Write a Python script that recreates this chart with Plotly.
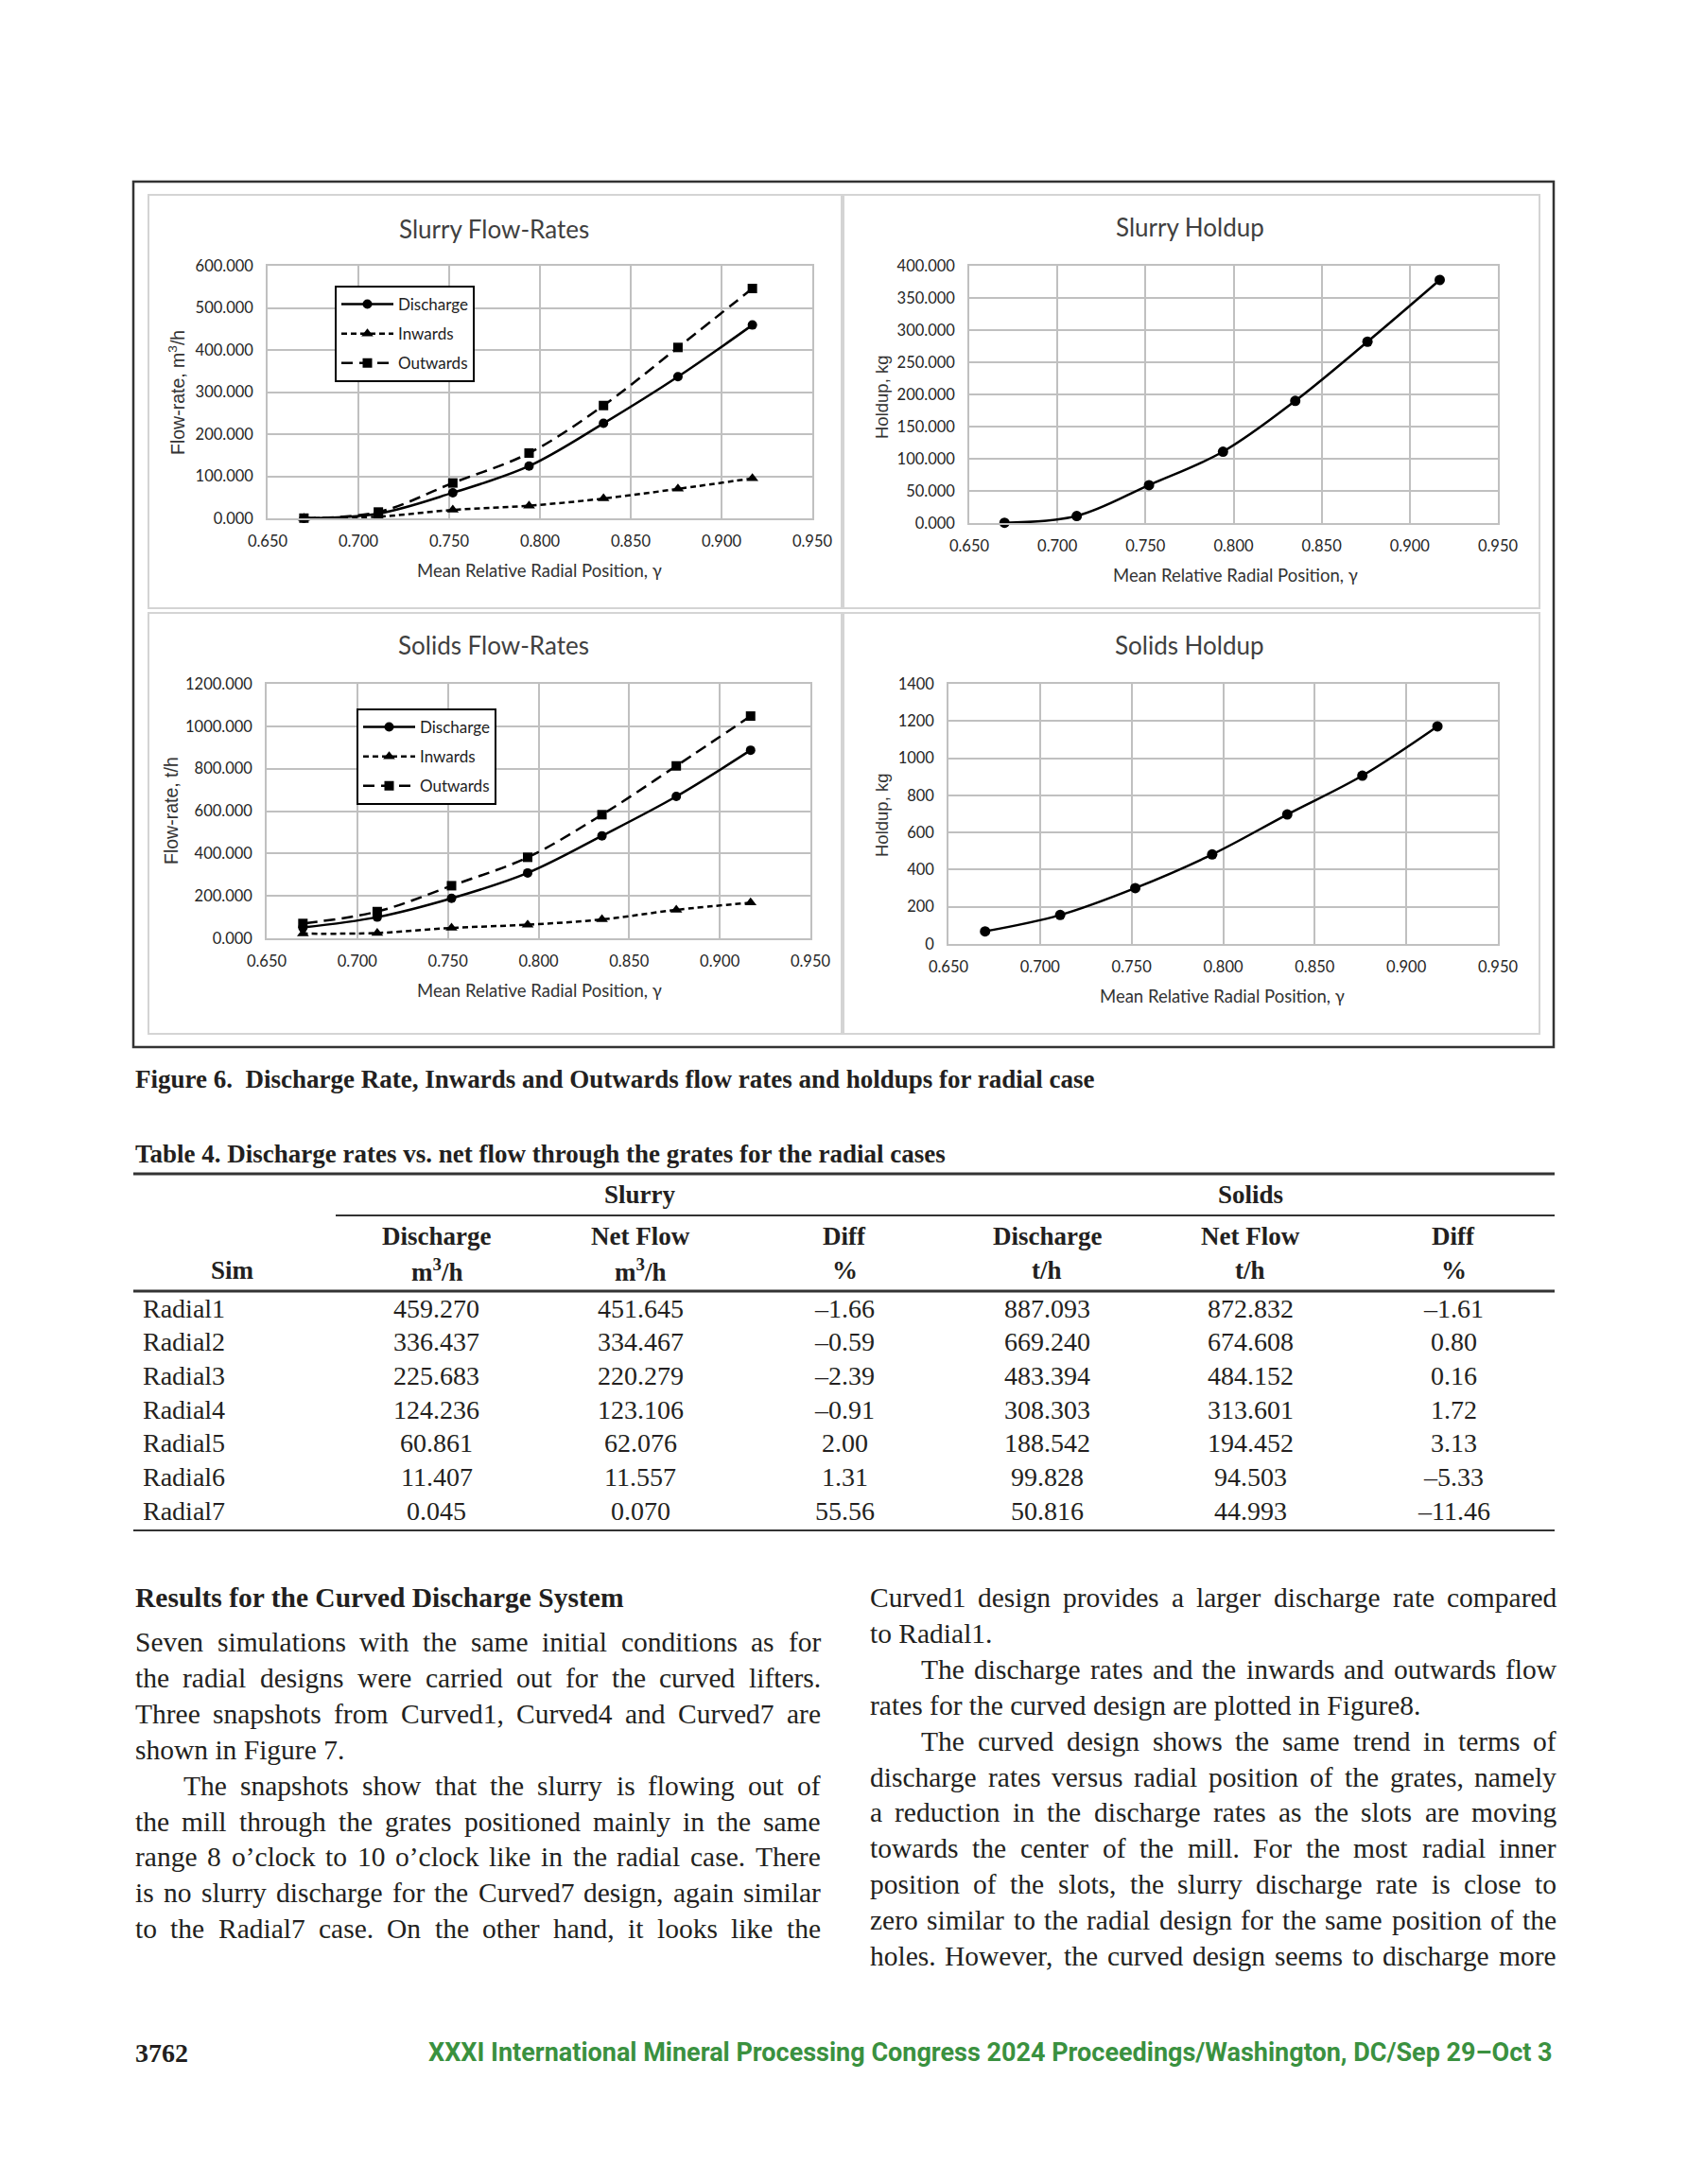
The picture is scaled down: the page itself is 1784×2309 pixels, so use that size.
import plotly.graph_objects as go

# page is 1784x2309; the browser body adds an 8px margin, so the figure is
# made 16px smaller and every page coordinate is shifted by that margin
PAGE_W, PAGE_H = 1784, 2309
OFF = 8
W, H = PAGE_W - 2 * OFF, PAGE_H - 2 * OFF


def px(x):
    return (x - OFF) / W


def py(y):
    return 1 - (y - OFF) / H


# ---------------- data ----------------
sims = ["Radial1", "Radial2", "Radial3", "Radial4", "Radial5", "Radial6", "Radial7"]
gamma = [0.917, 0.876, 0.835, 0.794, 0.752, 0.711, 0.670]

slurry_discharge = [459.270, 336.437, 225.683, 124.236, 60.861, 11.407, 0.045]
slurry_netflow = [451.645, 334.467, 220.279, 123.106, 62.076, 11.557, 0.070]
slurry_diff = [-1.66, -0.59, -2.39, -0.91, 2.00, 1.31, 55.56]
solids_discharge = [887.093, 669.240, 483.394, 308.303, 188.542, 99.828, 50.816]
solids_netflow = [872.832, 674.608, 484.152, 313.601, 194.452, 94.503, 44.993]
solids_diff = [-1.61, 0.80, 0.16, 1.72, 3.13, -5.33, -11.46]

slurry_inwards = [95, 70, 47, 30, 20, 4, 0.5]
slurry_outwards = [546, 406, 268, 155, 84, 15, 0.5]
solids_inwards = [168, 134, 89, 64, 49, 25, 22]
solids_outwards = [1048, 813, 583, 382, 248, 126, 70]
slurry_holdup = [378, 282, 190, 111, 59, 11, 0.5]
solids_holdup = [1171, 906, 697, 482, 301, 156, 68]

chart_titles = ["Slurry Flow-Rates", "Slurry Holdup", "Solids Flow-Rates", "Solids Holdup"]
y_titles = ["Flow-rate, m<sup>3</sup>/h", "Holdup, kg", "Flow-rate, t/h", "Holdup, kg"]
x_title = "Mean Relative Radial Position, γ"

caption = "Figure 6.  Discharge Rate, Inwards and Outwards flow rates and holdups for radial case"
table_title = "Table 4. Discharge rates vs. net flow through the grates for the radial cases"
group_headers = ["Slurry", "Solids"]
col_headers1 = ["", "Discharge", "Net Flow", "Diff", "Discharge", "Net Flow", "Diff"]
col_headers2 = ["Sim", "m<sup>3</sup>/h", "m<sup>3</sup>/h", "%", "t/h", "t/h", "%"]

heading = "Results for the Curved Discharge System"
# (text, indented, justified)
left_lines = [
    ("Seven simulations with the same initial conditions as for", False, True),
    ("the radial designs were carried out for the curved lifters.", False, True),
    ("Three snapshots from Curved1, Curved4 and Curved7 are", False, True),
    ("shown in Figure 7.", False, False),
    ("The snapshots show that the slurry is flowing out of", True, True),
    ("the mill through the grates positioned mainly in the same", False, True),
    ("range 8 o’clock to 10 o’clock like in the radial case. There", False, True),
    ("is no slurry discharge for the Curved7 design, again similar", False, True),
    ("to the Radial7 case. On the other hand, it looks like the", False, True),
]
right_lines = [
    ("Curved1 design provides a larger discharge rate compared", False, True),
    ("to Radial1.", False, False),
    ("The discharge rates and the inwards and outwards flow", True, True),
    ("rates for the curved design are plotted in Figure8.", False, False),
    ("The curved design shows the same trend in terms of", True, True),
    ("discharge rates versus radial position of the grates, namely", False, True),
    ("a reduction in the discharge rates as the slots are moving", False, True),
    ("towards the center of the mill. For the most radial inner", False, True),
    ("position of the slots, the slurry discharge rate is close to", False, True),
    ("zero similar to the radial design for the same position of the", False, True),
    ("holes. However, the curved design seems to discharge more", False, True),
]
page_number = "3762"
footer = "XXXI International Mineral Processing Congress 2024 Proceedings/Washington, DC/Sep 29–Oct 3"

# ---------------- style ----------------
CHART_FONT = "Lato, Carlito, Calibri, sans-serif"
SERIF = "Liberation Serif, Times New Roman, serif"
TXT = "#231f20"

# Times/Liberation Serif advance widths (per 1000 em) for justification
_TW = {' ': 250, ',': 250, '.': 250, '’': 333, "'": 180, '-': 333, '0': 500, '1': 500,
       '2': 500, '3': 500, '4': 500, '5': 500, '6': 500, '7': 500, '8': 500, '9': 500,
       'A': 722, 'B': 667, 'C': 667, 'D': 722, 'E': 611, 'F': 556, 'G': 722, 'H': 722,
       'I': 333, 'J': 389, 'K': 722, 'L': 611, 'M': 889, 'N': 722, 'O': 722, 'P': 556,
       'Q': 722, 'R': 667, 'S': 556, 'T': 611, 'U': 722, 'V': 722, 'W': 944, 'X': 722,
       'Y': 722, 'Z': 611, 'a': 444, 'b': 500, 'c': 444, 'd': 500, 'e': 444, 'f': 333,
       'g': 500, 'h': 500, 'i': 278, 'j': 278, 'k': 500, 'l': 278, 'm': 778, 'n': 500,
       'o': 500, 'p': 500, 'q': 500, 'r': 333, 's': 389, 't': 278, 'u': 500, 'v': 500,
       'w': 722, 'x': 500, 'y': 500, 'z': 444}


def text_width(s, size):
    return sum(_TW.get(c, 500) for c in s) / 1000.0 * size


fig = go.Figure()

line_d = dict(color="black", width=2.5)
line_i = dict(color="black", width=2.5, dash="6px,4px")
line_o = dict(color="black", width=2.5, dash="12px,7px")


def add_flow(xa, ya, leg, disc, inw, outw, tag):
    fig.add_trace(go.Scatter(x=gamma, y=disc, name="Discharge", mode="lines+markers",
                             line=dict(shape="spline", **line_d),
                             marker=dict(symbol="circle", size=10, color="black"),
                             xaxis=xa, yaxis=ya, legend=leg, legendgroup=tag + "d",
                             cliponaxis=False))
    fig.add_trace(go.Scatter(x=gamma, y=inw, name="Inwards", mode="lines+markers",
                             line=dict(shape="spline", **line_i),
                             marker=dict(symbol="triangle-up", size=11, color="black"),
                             xaxis=xa, yaxis=ya, legend=leg, legendgroup=tag + "i",
                             cliponaxis=False))
    fig.add_trace(go.Scatter(x=gamma, y=outw, name="Outwards", mode="lines+markers",
                             line=dict(shape="spline", **line_o),
                             marker=dict(symbol="square", size=10, color="black"),
                             xaxis=xa, yaxis=ya, legend=leg, legendgroup=tag + "o",
                             cliponaxis=False))


add_flow("x", "y", "legend", slurry_discharge, slurry_inwards, slurry_outwards, "s")
add_flow("x3", "y3", "legend2", solids_discharge, solids_inwards, solids_outwards, "t")

fig.add_trace(go.Scatter(x=gamma, y=slurry_holdup, mode="lines+markers", showlegend=False,
                         line=dict(shape="spline", **line_d),
                         marker=dict(symbol="circle", size=11, color="black"),
                         xaxis="x2", yaxis="y2", cliponaxis=False))
fig.add_trace(go.Scatter(x=gamma, y=solids_holdup, mode="lines+markers", showlegend=False,
                         line=dict(shape="spline", **line_d),
                         marker=dict(symbol="circle", size=11, color="black"),
                         xaxis="x4", yaxis="y4", cliponaxis=False))

GRID = "#c0c0c0"
tickfont = dict(family=CHART_FONT, size=16.5, color="#262626")


def xax(x0, x1, anchor):
    return dict(domain=[px(x0), px(x1)], range=[0.65, 0.95], dtick=0.05, tick0=0.65,
                tickformat=".3f", showgrid=True, gridcolor=GRID, gridwidth=1.5,
                showline=True, mirror=True, linecolor=GRID, linewidth=1.5,
                zeroline=False, ticks="", tickfont=tickfont, anchor=anchor,
                ticklabelstandoff=8, automargin=False)


def yax(y0, y1, top, dt, fmt, anchor):
    return dict(domain=[py(y1), py(y0)], range=[0, top], dtick=dt, tick0=0,
                tickformat=fmt, showgrid=True, gridcolor=GRID, gridwidth=1.5,
                showline=True, mirror=True, linecolor=GRID, linewidth=1.5,
                zeroline=False, ticks="", tickfont=tickfont, anchor=anchor,
                ticklabelstandoff=10, automargin=False)


fig.update_layout(
    xaxis=xax(283, 859, "y"), yaxis=yax(281, 548, 600, 100, ".3f", "x"),
    xaxis2=xax(1025, 1584, "y2"), yaxis2=yax(281, 553, 400, 50, ".3f", "x2"),
    xaxis3=xax(282, 857, "y3"), yaxis3=yax(723, 992, 1200, 200, ".3f", "x3"),
    xaxis4=xax(1003, 1584, "y4"), yaxis4=yax(723, 998, 1400, 200, "d", "x4"),
)

legend_style = dict(xanchor="left", yanchor="top", bgcolor="white", bordercolor="black",
                    borderwidth=2, font=dict(family=CHART_FONT, size=17, color="#222"),
                    tracegroupgap=6, itemwidth=55)
fig.update_layout(
    legend=dict(x=px(354), y=py(302), **legend_style),
    legend2=dict(x=px(377), y=py(749), **legend_style),
)

shapes = []
shapes.append(dict(type="rect", xref="paper", yref="paper", x0=px(141), x1=px(1643),
                   y0=py(1107), y1=py(192), line=dict(color="#333333", width=2.5)))
for (a, b, c, d) in [(157, 206, 890, 643), (892, 206, 1628, 643),
                     (157, 648, 890, 1093), (892, 648, 1628, 1093)]:
    shapes.append(dict(type="rect", xref="paper", yref="paper", x0=px(a), x1=px(c),
                       y0=py(d), y1=py(b), line=dict(color="#d4d4d4", width=2)))

ann = []


def text(x, y, s, size, family=SERIF, color=TXT, xanchor="left", bold=False, angle=0):
    if bold:
        s = "<b>" + s + "</b>"
    ann.append(dict(x=px(x), y=py(y), xref="paper", yref="paper", text=s, showarrow=False,
                    xanchor=xanchor, yanchor="middle", textangle=angle,
                    font=dict(family=family, size=size, color=color)))


# chart titles & axis titles
title_pos = [(522, 242), (1258, 240), (522, 682), (1258, 682)]
for t, (x, y) in zip(chart_titles, title_pos):
    text(x, y, t, 26, family=CHART_FONT, color="#404040", xanchor="center")
ytitle_pos = [(187, 415), (932, 420), (181, 857), (933, 862)]
ytitle_size = [19.5, 18.5, 19.5, 18.5]
for t, (x, y), sz in zip(y_titles, ytitle_pos, ytitle_size):
    text(x, y, t, sz, family="Liberation Sans, Arial, sans-serif", color="#333",
         xanchor="center", angle=-90)
xtitle_pos = [(570, 603), (1306, 608), (570, 1047), (1292, 1053)]
for (x, y) in xtitle_pos:
    text(x, y, x_title, 18.5, family=CHART_FONT, color="#333", xanchor="center")

# caption & table title
text(141, 1141, caption, 27, bold=True)
text(141, 1220, table_title, 27, bold=True)

# table
TL, TR = 141, 1644
for (xa, yv, wd) in [(TL, 1241, 3), (355, 1285, 2), (TL, 1365, 3), (TL, 1618, 2)]:
    shapes.append(dict(type="line", xref="paper", yref="paper", x0=px(xa), x1=px(TR),
                       y0=py(yv), y1=py(yv), line=dict(color="#333", width=wd)))

col_x = [246, 462, 677, 893, 1107, 1322, 1537]
text(677, 1263, group_headers[0], 27, bold=True, xanchor="center")
text(1322, 1263, group_headers[1], 27, bold=True, xanchor="center")
for cx, h1, h2 in zip(col_x, col_headers1, col_headers2):
    if h1:
        text(cx, 1307, h1, 27, bold=True, xanchor="center")
    text(cx, 1343, h2, 27, bold=True, xanchor="center")


def fmt_diff(v):
    s = "{:.2f}".format(abs(v))
    return ("–" + s) if v < 0 else s


for i, s in enumerate(sims):
    y = 1383 + i * 35.7
    text(149, y, s, 28)
    vals = ["{:.3f}".format(slurry_discharge[i]), "{:.3f}".format(slurry_netflow[i]),
            fmt_diff(slurry_diff[i]), "{:.3f}".format(solids_discharge[i]),
            "{:.3f}".format(solids_netflow[i]), fmt_diff(solids_diff[i])]
    for cx, v in zip(col_x[1:], vals):
        text(cx, y, v, 28, xanchor="center")

# body text (justified)
BODY = 29.5


def body_line(s, x0, x1, y, justify):
    if not justify:
        text(x0, y, s, BODY)
        return
    words = s.split(" ")
    nat = sum(text_width(w, BODY) for w in words)
    gap = (x1 - x0 - nat) / max(len(words) - 1, 1)
    gap = max(gap, 0.18 * BODY)
    x = x0
    for w in words:
        text(x, y, w, BODY)
        x += text_width(w, BODY) + gap


text(141, 1689, heading, 29.5, bold=True)
ly = 1736
for s, indent, just in left_lines:
    body_line(s, 192 if indent else 141, 866, ly, just)
    ly += 37.9
ry = 1689
for s, indent, just in right_lines:
    body_line(s, 972 if indent else 918, 1644, ry, just)
    ry += 37.9

# footer
text(141, 2170, page_number, 28, bold=True)
text(1644, 2170, footer, 27, family="Liberation Sans Narrow, Roboto, sans-serif",
     color="#3a913f", xanchor="right", bold=True)

fig.update_layout(width=W, height=H, margin=dict(l=0, r=0, t=0, b=0, autoexpand=False),
                  paper_bgcolor="white", plot_bgcolor="white",
                  shapes=shapes, annotations=ann)

fig.write_html("out.html")
